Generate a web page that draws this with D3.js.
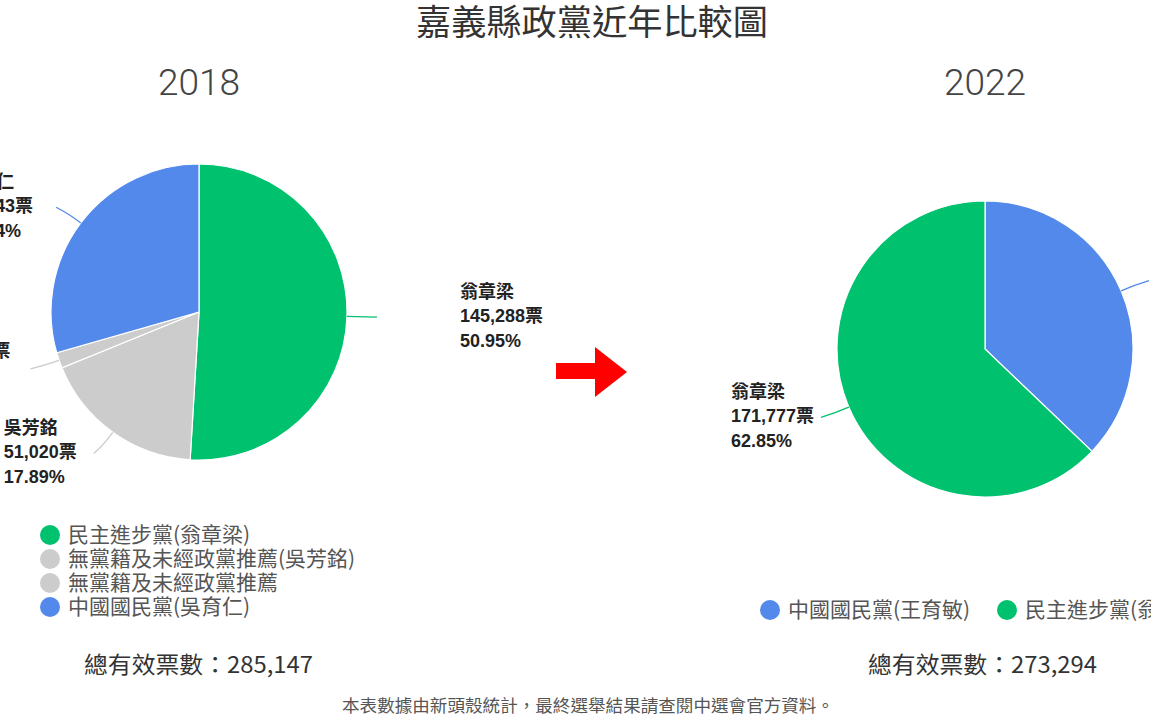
<!DOCTYPE html>
<html><head><meta charset="utf-8">
<script src="https://cdn.jsdelivr.net/npm/d3@7"></script>
<style>
html,body{margin:0;padding:0;background:#fff;}
svg{display:block;}
</style></head>
<body>
<svg id="chart" width="1151" height="717"></svg>
<script>
// ---- data ----
const chartTitle = "嘉義縣政黨近年比較圖";
const years = ["2018", "2022"];
const parties2018 = ["民主進步黨(翁章梁)", "無黨籍及未經政黨推薦(吳芳銘)", "無黨籍及未經政黨推薦", "中國國民黨(吳育仁)"];
const names2018 = ["翁章梁", "吳芳銘", "", "吳育仁"];
const votes2018 = [145288, 51020, 4896, 83943];
const pct2018 = ["50.95%", "17.89%", "1.72%", "29.44%"];
const colors2018 = ["#00c16e", "#cccccc", "#cccccc", "#5389ea"];
const parties2022 = ["中國國民黨(王育敏)", "民主進步黨(翁章梁)"];
const names2022 = ["王育敏", "翁章梁"];
const votes2022 = [101517, 171777];
const pct2022 = ["37.15%", "62.85%"];
const colors2022 = ["#5389ea", "#00c16e"];
const totals = ["285,147", "273,294"];
const footnote = "本表數據由新頭殼統計，最終選舉結果請查閱中選會官方資料。";

const svg = d3.select("#chart");
const cjk = "'Noto Sans CJK TC','Noto Sans CJK SC',sans-serif";
const labelFont = "'Liberation Sans','Noto Sans CJK TC',sans-serif";
const fmt = d3.format(",");

svg.append("text").attr("x", 592).attr("y", 35).attr("text-anchor", "middle")
  .attr("font-family", cjk).attr("font-size", 35).attr("fill", "#333")
  .attr("textLength", 352).attr("lengthAdjust", "spacingAndGlyphs").text(chartTitle);

const R = 148;
const charts = [
  {cx: 199, cy: 312, year: years[0], names: names2018, votes: votes2018, pct: pct2018, colors: colors2018, parties: parties2018, total: totals[0], totalX: 84},
  {cx: 985, cy: 349, year: years[1], names: names2022, votes: votes2022, pct: pct2022, colors: colors2022, parties: parties2022, total: totals[1], totalX: 868}
];

const arc = d3.arc().innerRadius(0).outerRadius(R);
const pie = d3.pie().sort(null).value(d => d.v);

charts.forEach((c, ci) => {
  svg.append("text").attr("x", c.cx).attr("y", 95).attr("text-anchor", "middle")
    .attr("font-family", "Roboto, sans-serif").attr("font-weight", 300).attr("font-size", 37)
    .attr("fill", "#444").text(c.year);

  const data = c.votes.map((v, i) => ({v, i}));
  const arcs = pie(data);
  const g = svg.append("g").attr("transform", `translate(${c.cx},${c.cy})`);
  g.selectAll("path.slice").data(arcs).join("path").attr("class", "slice")
    .attr("d", arc).attr("fill", d => c.colors[d.data.i])
    .attr("stroke", "#fff").attr("stroke-width", 1.2);

  // leader lines and labels
  arcs.forEach((a, k) => {
    const m = (a.startAngle + a.endAngle) / 2;
    const sx = Math.sin(m), sy = -Math.cos(m);
    const p0 = [sx * R, sy * R];
    const p1 = [sx * (R + 16), sy * (R + 16)];
    const side = sx >= 0 ? 1 : -1;
    const p2 = [sx * (R + 26) + side * 4, sy * (R + 26)];
    g.append("path")
      .attr("d", `M${p0[0]},${p0[1]} Q${p1[0]},${p1[1]} ${p2[0]},${p2[1]}`)
      .attr("fill", "none").attr("stroke", c.colors[a.data.i]).attr("stroke-width", 1.3);
    let lx = side > 0 ? p2[0] + 83 : p2[0] - 90;
    let ly = p2[1];
    if (ci === 0 && a.data.i === 2) { ly -= 17; lx += 7; }
    if (ci === 0 && a.data.i === 3) { lx -= 6; }
    const lines = [c.names[a.data.i], fmt(c.votes[a.data.i]) + "票", c.pct[a.data.i]];
    const t = g.append("text")
      .attr("font-family", labelFont).attr("font-weight", "bold").attr("font-size", 18).attr("fill", "#222");
    lines.forEach((s, li) => {
      t.append("tspan").attr("x", lx).attr("y", ly + (li - 1) * 24.5 + 5).text(s);
    });
  });

  // legend
  if (ci === 0) {
    c.parties.forEach((p, i) => {
      const y = 535 + i * 24;
      svg.append("circle").attr("cx", 50).attr("cy", y).attr("r", 10).attr("fill", c.colors[i]);
      svg.append("text").attr("x", 68).attr("y", y + 7).attr("font-family", cjk)
        .attr("font-size", 21).attr("fill", "#555").text(p);
    });
  } else {
    const xs = [770, 1007];
    c.parties.forEach((p, i) => {
      svg.append("circle").attr("cx", xs[i]).attr("cy", 610).attr("r", 10).attr("fill", c.colors[i]);
      svg.append("text").attr("x", xs[i] + 18).attr("y", 617).attr("font-family", cjk)
        .attr("font-size", 21).attr("fill", "#555").text(p);
    });
  }

  svg.append("text").attr("x", c.totalX).attr("y", 673).attr("font-family", cjk)
    .attr("font-size", 23).attr("fill", "#333")
    .attr("textLength", 229).attr("lengthAdjust", "spacingAndGlyphs")
    .text("總有效票數：" + c.total);
});

// arrow
const arrowPts = [[556,363],[595,363],[595,347],[627,372],[595,397],[595,379],[556,379]];
svg.append("path").attr("d", d3.line()(arrowPts) + "Z").attr("fill", "#ff0000");

svg.append("text").attr("x", 588).attr("y", 712).attr("text-anchor", "middle")
  .attr("font-family", cjk).attr("font-size", 17).attr("fill", "#555")
  .attr("textLength", 492).attr("lengthAdjust", "spacingAndGlyphs").text(footnote);
</script>
</body></html>
